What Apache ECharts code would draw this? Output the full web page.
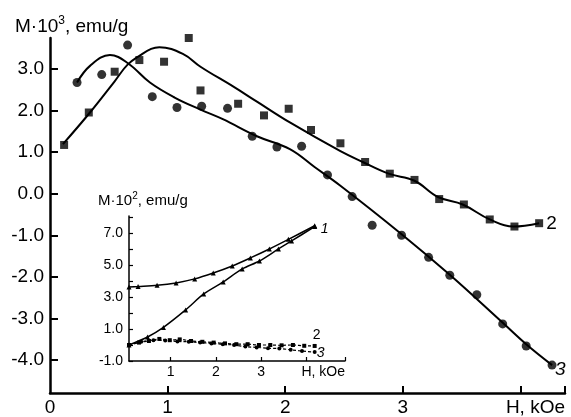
<!DOCTYPE html>
<html>
<head>
<meta charset="utf-8">
<title>M(H)</title>
<script src="https://cdn.jsdelivr.net/npm/echarts@6/dist/echarts.min.js"></script>
<style>
  html, body { margin: 0; padding: 0; background: #fff; }
  #chart { width: 571px; height: 417px; }
</style>
</head>
<body>
<div id="chart"></div>
<script>
// ---- data ----
// main plot, curve 3 (circles)
const circleH = [0.23, 0.44, 0.66, 0.87, 1.08, 1.29, 1.51, 1.72, 1.93, 2.14, 2.36, 2.57, 2.74, 2.99, 3.22, 3.40, 3.63, 3.85, 4.05, 4.27]
const circleM = [2.67, 2.86, 3.57, 2.33, 2.07, 2.10, 2.05, 1.38, 1.12, 1.14, 0.45, -0.07, -0.76, -1.00, -1.53, -1.96, -2.43, -3.13, -3.66, -4.12]
// main plot, curve 2 (squares)
const squareH = [0.12, 0.33, 0.55, 0.76, 0.97, 1.18, 1.28, 1.60, 1.82, 2.03, 2.22, 2.47, 2.68, 2.89, 3.10, 3.31, 3.52, 3.74, 3.95, 4.16]
const squareM = [1.17, 1.95, 2.93, 3.21, 3.17, 3.74, 2.48, 2.16, 1.88, 2.04, 1.53, 1.21, 0.76, 0.48, 0.33, -0.13, -0.26, -0.62, -0.79, -0.71]
// hand drawn fit lines through the points
const fit3H = [0.23, 0.34, 0.51, 0.66, 0.85, 1.06, 1.28, 1.47, 1.76, 2.04, 2.25, 2.47, 2.98, 3.40, 3.83, 4.05, 4.27]
const fit3M = [2.67, 3.07, 3.33, 3.14, 2.67, 2.31, 2.02, 1.79, 1.38, 1.07, 0.64, 0.19, -0.95, -1.95, -3.05, -3.62, -4.12]
const fit2H = [0.11, 0.34, 0.55, 0.66, 0.77, 0.86, 0.93, 1.13, 1.28, 1.56, 1.76, 2.04, 2.47, 2.66, 2.88, 3.10, 3.30, 3.51, 3.74, 3.94, 4.16]
const fit2M = [1.19, 1.95, 2.70, 3.10, 3.33, 3.48, 3.52, 3.36, 3.05, 2.57, 2.21, 1.71, 1.02, 0.76, 0.48, 0.31, -0.08, -0.26, -0.62, -0.79, -0.71]

// inset, curve 1 (two branches, triangles)
const in1UpH = [0.08, 0.28, 0.70, 1.12, 1.53, 1.94, 2.36, 2.76, 3.18, 3.60, 4.18]
const in1UpM = [3.63, 3.66, 3.73, 3.88, 4.13, 4.50, 4.94, 5.44, 6.00, 6.60, 7.45]
const in1LoH = [0.08, 0.49, 0.84, 1.33, 1.73, 2.16, 2.58, 2.96, 3.38, 3.67, 4.18]
const in1LoM = [0.00, 0.50, 1.10, 2.19, 3.19, 3.94, 4.75, 5.25, 6.00, 6.50, 7.40]
// inset, curves 2 and 3 close to zero
const in2H = [0.08, 0.30, 0.52, 0.75, 0.98, 1.20, 1.45, 1.70, 1.95, 2.20, 2.45, 2.70, 2.95, 3.20, 3.45, 3.70, 3.95, 4.18]
const in2M = [0.00, 0.15, 0.25, 0.38, 0.30, 0.35, 0.25, 0.20, 0.15, 0.10, 0.05, 0.05, 0.00, 0.00, -0.02, 0.00, -0.05, -0.06]
const in3H = [0.08, 0.35, 0.62, 0.88, 1.15, 1.40, 1.65, 1.90, 2.15, 2.40, 2.65, 2.90, 3.15, 3.40, 3.65, 3.90, 4.18]
const in3M = [0.00, 0.20, 0.30, 0.28, 0.22, 0.20, 0.15, 0.10, 0.05, 0.00, -0.10, -0.15, -0.20, -0.22, -0.30, -0.38, -0.44]

// tick labels
const mainYTicks = [-4, -3, -2, -1, 0, 1, 2, 3]
const mainXTicks = [0, 1, 2, 3]
const insetYLabels = [-1, 1, 3, 5, 7]
const insetYTicks = [-1, 0, 1, 2, 3, 4, 5, 6, 7, 8]
const insetXTicks = [1, 2, 3, 4]

const mainXMax = 4.38
const insetXMin = 0.08
const insetXMax = 4.85

const zip = (xs, ys) => xs.map((x, i) => [x, ys[i]])

const FONT = '"Liberation Sans", Arial, sans-serif'
const INK = '#000'

const chart = echarts.init(document.getElementById('chart'), null, { renderer: 'canvas' })

const option = {
  animation: false,
  backgroundColor: '#fff',
  textStyle: { fontFamily: FONT, color: INK },
  title: [
    {
      text: '{m|M·10}{s|3}{m|, emu/g}',
      left: 15,
      top: 15,
      padding: 0,
      textStyle: {
        fontWeight: 'normal',
        rich: {
          m: { fontSize: 19, lineHeight: 24, fontWeight: 'normal', fontFamily: FONT, color: INK },
          s: { fontSize: 12, lineHeight: 12, verticalAlign: 'top', fontWeight: 'normal', fontFamily: FONT, color: INK },
        },
      },
    },
    {
      text: '{m|M·10}{s|2}{m|, emu/g}',
      left: 98,
      top: 191,
      padding: 0,
      textStyle: {
        fontWeight: 'normal',
        rich: {
          m: { fontSize: 15, lineHeight: 19, fontWeight: 'normal', fontFamily: FONT, color: INK },
          s: { fontSize: 10, lineHeight: 10, verticalAlign: 'top', fontWeight: 'normal', fontFamily: FONT, color: INK },
        },
      },
    },
  ],
  grid: [
    { left: 50, right: 6, top: 38, bottom: 21 }, // main plot
    { left: 129, right: 226, top: 216, bottom: 56 }, // inset
  ],
  xAxis: [
    {
      gridIndex: 0,
      type: 'value',
      min: 0,
      max: mainXMax,
      splitLine: { show: false },
      axisLine: { onZero: false, lineStyle: { color: INK, width: 2.5 } },
      axisTick: {
        inside: true,
        length: 7,
        lineStyle: { color: INK, width: 2 },
        customValues: [1, 2, 3, 4, mainXMax],
      },
      axisLabel: {
        customValues: mainXTicks.concat([mainXMax]),
        formatter: v => (v > 4 ? 'H, kOe' : String(v)),
        alignMaxLabel: 'right',
        fontSize: 19,
        margin: 5,
        color: INK,
        fontFamily: FONT,
      },
    },
    {
      gridIndex: 1,
      type: 'value',
      min: insetXMin,
      max: insetXMax,
      splitLine: { show: false },
      axisLine: { onZero: false, lineStyle: { color: INK, width: 1.5 } },
      axisTick: {
        inside: true,
        length: 4,
        lineStyle: { color: INK, width: 1.2 },
        customValues: insetXTicks.concat([insetXMax]),
      },
      axisLabel: {
        customValues: [1, 2, 3, insetXMax],
        formatter: v => (v > 4 ? 'H, kOe' : String(v)),
        alignMaxLabel: 'right',
        fontSize: 14,
        margin: 4,
        color: INK,
        fontFamily: FONT,
      },
    },
  ],
  yAxis: [
    {
      gridIndex: 0,
      type: 'value',
      min: -4.79,
      max: 3.74,
      splitLine: { show: false },
      axisLine: { show: true, onZero: false, lineStyle: { color: INK, width: 2.5 } },
      axisTick: {
        show: true,
        inside: true,
        length: 8,
        lineStyle: { color: INK, width: 2 },
        customValues: mainYTicks,
      },
      axisLabel: {
        customValues: mainYTicks,
        formatter: v => v.toFixed(1),
        fontSize: 19,
        margin: 6,
        color: INK,
        fontFamily: FONT,
      },
    },
    {
      gridIndex: 1,
      type: 'value',
      min: -1,
      max: 8.06,
      splitLine: { show: false },
      axisLine: { show: true, onZero: false, lineStyle: { color: INK, width: 1.5 } },
      axisTick: {
        show: true,
        inside: true,
        length: 4,
        lineStyle: { color: INK, width: 1.2 },
        customValues: insetYTicks,
      },
      axisLabel: {
        customValues: insetYLabels,
        formatter: v => v.toFixed(1),
        fontSize: 14,
        margin: 6,
        color: INK,
        fontFamily: FONT,
      },
    },
  ],
  series: [
    // ---- main plot ----
    {
      name: 'fit 3',
      type: 'line',
      xAxisIndex: 0,
      yAxisIndex: 0,
      data: zip(fit3H, fit3M),
      smooth: 0.4,
      showSymbol: false,
      lineStyle: { color: INK, width: 2 },
      endLabel: {
        show: true,
        formatter: '3',
        fontSize: 19,
        fontStyle: 'italic',
        color: INK,
        fontFamily: FONT,
        distance: 3,
        offset: [0, 5],
      },
    },
    {
      name: 'fit 2',
      type: 'line',
      xAxisIndex: 0,
      yAxisIndex: 0,
      data: zip(fit2H, fit2M),
      smooth: 0.4,
      showSymbol: false,
      lineStyle: { color: INK, width: 2 },
      endLabel: {
        show: true,
        formatter: '2',
        fontSize: 19,
        color: INK,
        fontFamily: FONT,
        distance: 7,
        offset: [0, 1],
      },
    },
    {
      name: 'circles',
      type: 'scatter',
      xAxisIndex: 0,
      yAxisIndex: 0,
      data: zip(circleH, circleM),
      symbol: 'circle',
      symbolSize: 9,
      itemStyle: { color: INK },
    },
    {
      name: 'squares',
      type: 'scatter',
      xAxisIndex: 0,
      yAxisIndex: 0,
      data: zip(squareH, squareM),
      symbol: 'rect',
      symbolSize: 8,
      itemStyle: { color: INK },
    },
    // ---- inset ----
    {
      name: 'inset 1 up',
      type: 'line',
      xAxisIndex: 1,
      yAxisIndex: 1,
      data: zip(in1UpH, in1UpM),
      smooth: 0.3,
      symbol: 'triangle',
      symbolSize: 5,
      itemStyle: { color: INK },
      lineStyle: { color: INK, width: 1.5 },
      endLabel: {
        show: true,
        formatter: '1',
        fontSize: 14,
        fontStyle: 'italic',
        color: INK,
        fontFamily: FONT,
        distance: 6,
        offset: [0, 3],
      },
    },
    {
      name: 'inset 1 low',
      type: 'line',
      xAxisIndex: 1,
      yAxisIndex: 1,
      data: zip(in1LoH, in1LoM),
      smooth: 0.3,
      symbol: 'triangle',
      symbolSize: 5,
      itemStyle: { color: INK },
      lineStyle: { color: INK, width: 1.5 },
    },
    {
      name: 'inset 2',
      type: 'line',
      xAxisIndex: 1,
      yAxisIndex: 1,
      data: zip(in2H, in2M),
      smooth: 0.3,
      symbol: 'rect',
      symbolSize: 4,
      itemStyle: { color: INK },
      lineStyle: { color: INK, width: 1.2, type: [3, 2] },
      endLabel: {
        show: true,
        formatter: '2',
        fontSize: 14,
        color: INK,
        fontFamily: FONT,
        distance: 0,
        offset: [-2, -11],
      },
    },
    {
      name: 'inset 3',
      type: 'line',
      xAxisIndex: 1,
      yAxisIndex: 1,
      data: zip(in3H, in3M),
      smooth: 0.3,
      symbol: 'circle',
      symbolSize: 4,
      itemStyle: { color: INK },
      lineStyle: { color: INK, width: 1.2, type: [3, 2] },
      endLabel: {
        show: true,
        formatter: '3',
        fontSize: 14,
        fontStyle: 'italic',
        color: INK,
        fontFamily: FONT,
        distance: 2,
        offset: [0, 1],
      },
    },
  ],
}

chart.setOption(option)
</script>
</body>
</html>
